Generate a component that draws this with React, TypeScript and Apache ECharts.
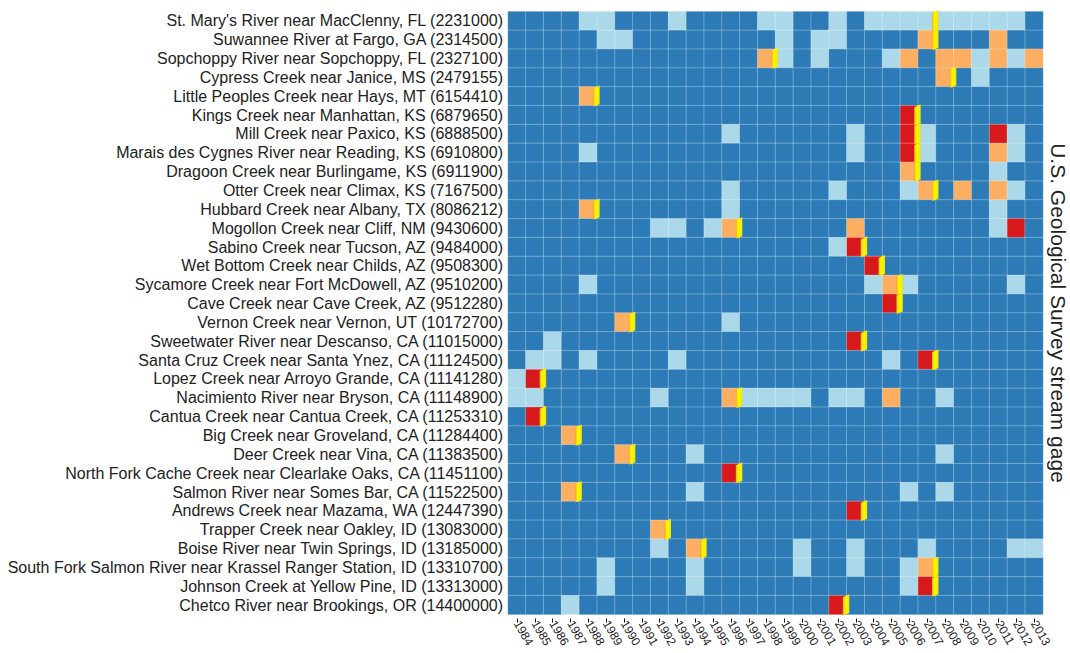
import React, { useEffect, useRef } from 'react';
import * as echarts from 'echarts';

const years: string[] = [
  '1984','1985','1986','1987','1988','1989','1990','1991','1992','1993',
  '1994','1995','1996','1997','1998','1999','2000','2001','2002','2003',
  '2004','2005','2006','2007','2008','2009','2010','2011','2012','2013',
];

const gages: string[] = [
  "St. Mary's River near MacClenny, FL (2231000)",
  'Suwannee River at Fargo, GA (2314500)',
  'Sopchoppy River near Sopchoppy, FL (2327100)',
  'Cypress Creek near Janice, MS (2479155)',
  'Little Peoples Creek near Hays, MT (6154410)',
  'Kings Creek near Manhattan, KS (6879650)',
  'Mill Creek near Paxico, KS (6888500)',
  'Marais des Cygnes River near Reading, KS (6910800)',
  'Dragoon Creek near Burlingame, KS (6911900)',
  'Otter Creek near Climax, KS (7167500)',
  'Hubbard Creek near Albany, TX (8086212)',
  'Mogollon Creek near Cliff, NM (9430600)',
  'Sabino Creek near Tucson, AZ (9484000)',
  'Wet Bottom Creek near Childs, AZ (9508300)',
  'Sycamore Creek near Fort McDowell, AZ (9510200)',
  'Cave Creek near Cave Creek, AZ (9512280)',
  'Vernon Creek near Vernon, UT (10172700)',
  'Sweetwater River near Descanso, CA (11015000)',
  'Santa Cruz Creek near Santa Ynez, CA (11124500)',
  'Lopez Creek near Arroyo Grande, CA (11141280)',
  'Nacimiento River near Bryson, CA (11148900)',
  'Cantua Creek near Cantua Creek, CA (11253310)',
  'Big Creek near Groveland, CA (11284400)',
  'Deer Creek near Vina, CA (11383500)',
  'North Fork Cache Creek near Clearlake Oaks, CA (11451100)',
  'Salmon River near Somes Bar, CA (11522500)',
  'Andrews Creek near Mazama, WA (12447390)',
  'Trapper Creek near Oakley, ID (13083000)',
  'Boise River near Twin Springs, ID (13185000)',
  'South Fork Salmon River near Krassel Ranger Station, ID (13310700)',
  'Johnson Creek at Yellow Pine, ID (13313000)',
  'Chetco River near Brookings, OR (14400000)',
];

// Year of the fire at each gage (marked in yellow)
const fireYears: number[] = [
  2007, 2007, 1998, 2008, 1988, 2006, 2006, 2006, 2006, 2007,
  1988, 1996, 2003, 2004, 2005, 2005, 1990, 2003, 2007, 1985,
  1996, 1985, 1987, 1990, 1996, 1987, 2003, 1992, 1994, 2007,
  2007, 2002,
];

// Level per gage and year: 0 = normal, 1 = elevated, 2 = high, 3 = highest
const levels: number[][] = [
  [0,0,0,0,1,1,0,0,0,1, 0,0,0,0,1,1,0,0,1,0, 1,1,1,1,1,1,1,1,1,0],
  [0,0,0,0,0,1,1,0,0,0, 0,0,0,0,0,1,0,1,1,0, 0,0,0,2,0,0,0,2,0,0],
  [0,0,0,0,0,0,0,0,0,0, 0,0,0,0,2,1,0,1,0,0, 0,1,2,0,2,2,1,2,1,2],
  [0,0,0,0,0,0,0,0,0,0, 0,0,0,0,0,0,0,0,0,0, 0,0,0,0,2,0,1,0,0,0],
  [0,0,0,0,2,0,0,0,0,0, 0,0,0,0,0,0,0,0,0,0, 0,0,0,0,0,0,0,0,0,0],
  [0,0,0,0,0,0,0,0,0,0, 0,0,0,0,0,0,0,0,0,0, 0,0,3,0,0,0,0,0,0,0],
  [0,0,0,0,0,0,0,0,0,0, 0,0,1,0,0,0,0,0,0,1, 0,0,3,1,0,0,0,3,1,0],
  [0,0,0,0,1,0,0,0,0,0, 0,0,0,0,0,0,0,0,0,1, 0,0,3,1,0,0,0,2,1,0],
  [0,0,0,0,0,0,0,0,0,0, 0,0,0,0,0,0,0,0,0,0, 0,0,2,0,0,0,0,1,0,0],
  [0,0,0,0,0,0,0,0,0,0, 0,0,1,0,0,0,0,0,1,0, 0,0,1,2,0,2,0,2,1,0],
  [0,0,0,0,2,0,0,0,0,0, 0,0,1,0,0,0,0,0,0,0, 0,0,0,0,0,0,0,1,0,0],
  [0,0,0,0,0,0,0,0,1,1, 0,1,2,0,0,0,0,0,0,2, 0,0,0,0,0,0,0,1,3,0],
  [0,0,0,0,0,0,0,0,0,0, 0,0,0,0,0,0,0,0,1,3, 0,0,0,0,0,0,0,0,0,0],
  [0,0,0,0,0,0,0,0,0,0, 0,0,0,0,0,0,0,0,0,0, 3,0,0,0,0,0,0,0,0,0],
  [0,0,0,0,1,0,0,0,0,0, 0,0,0,0,0,0,0,0,0,0, 1,2,1,0,0,0,0,0,1,0],
  [0,0,0,0,0,0,0,0,0,0, 0,0,0,0,0,0,0,0,0,0, 0,3,0,0,0,0,0,0,0,0],
  [0,0,0,0,0,0,2,0,0,0, 0,0,1,0,0,0,0,0,0,0, 0,0,0,0,0,0,0,0,0,0],
  [0,0,1,0,0,0,0,0,0,0, 0,0,0,0,0,0,0,0,0,3, 0,0,0,0,0,0,0,0,0,0],
  [0,1,1,0,1,0,0,0,0,1, 0,0,0,0,0,0,0,0,0,0, 0,1,0,3,0,0,0,0,0,0],
  [1,3,0,0,0,0,0,0,0,0, 0,0,0,0,0,0,0,0,0,0, 0,0,0,0,0,0,0,0,0,0],
  [1,1,0,0,0,0,0,0,1,0, 0,0,2,1,1,1,1,0,1,1, 0,2,0,0,1,0,0,0,0,0],
  [0,3,0,0,0,0,0,0,0,0, 0,0,0,0,0,0,0,0,0,0, 0,0,0,0,0,0,0,0,0,0],
  [0,0,0,2,0,0,0,0,0,0, 0,0,0,0,0,0,0,0,0,0, 0,0,0,0,0,0,0,0,0,0],
  [0,0,0,0,0,0,2,0,0,0, 1,0,0,0,0,0,0,0,0,0, 0,0,0,0,1,0,0,0,0,0],
  [0,0,0,0,0,0,0,0,0,0, 0,0,3,0,0,0,0,0,0,0, 0,0,0,0,0,0,0,0,0,0],
  [0,0,0,2,0,0,0,0,0,0, 1,0,0,0,0,0,0,0,0,0, 0,0,1,0,1,0,0,0,0,0],
  [0,0,0,0,0,0,0,0,0,0, 0,0,0,0,0,0,0,0,0,3, 0,0,0,0,0,0,0,0,0,0],
  [0,0,0,0,0,0,0,0,2,0, 0,0,0,0,0,0,0,0,0,0, 0,0,0,0,0,0,0,0,0,0],
  [0,0,0,0,0,0,0,0,1,0, 2,0,0,0,0,0,1,0,0,1, 0,0,0,1,0,0,0,0,1,1],
  [0,0,0,0,0,1,0,0,0,0, 1,0,0,0,0,0,1,0,0,1, 0,0,1,2,0,0,0,0,0,0],
  [0,0,0,0,0,1,0,0,0,0, 1,0,0,0,0,0,0,0,0,0, 0,0,1,3,0,0,0,0,0,0],
  [0,0,0,1,0,0,0,0,0,0, 0,0,0,0,0,0,0,0,3,0, 0,0,0,0,0,0,0,0,0,0],
];

const levelColors: string[] = ['#2c7bb6', '#abd9e9', '#fdae61', '#d7191c'];
const titleText = 'U.S. Geological Survey stream gage';
const FONT = '"Liberation Sans", Arial, Helvetica, sans-serif';

export default function App() {
  const ref = useRef<HTMLDivElement>(null);

  useEffect(() => {
    if (!ref.current) return;
    const chart = echarts.init(ref.current, null, { renderer: 'svg' });

    const cells: number[][] = [];
    levels.forEach((row, r) => {
      row.forEach((v, c) => cells.push([c, r, v]));
    });
    const fires: number[][] = fireYears.map((y, r) => [years.indexOf(String(y)), r]);

    const yellow = {
      type: 'linear', x: 0, y: 0, x2: 1, y2: 0,
      colorStops: [
        { offset: 0, color: '#e9a72a' },
        { offset: 0.3, color: '#fff200' },
        { offset: 0.8, color: '#f6f000' },
        { offset: 1, color: '#e6e21a' },
      ],
    };

    chart.setOption({
      animation: false,
      textStyle: { fontFamily: FONT },
      grid: { left: 508, top: 11.5, width: 535, height: 603, containLabel: false },
      xAxis: {
        type: 'category',
        data: years,
        position: 'bottom',
        offset: 4,
        axisLine: { show: false },
        axisTick: { show: true, alignWithLabel: true, length: 4, lineStyle: { color: '#111', width: 1 } },
        axisLabel: { interval: 0, rotate: -60, fontSize: 12, color: '#222', margin: 3, fontFamily: FONT },
        splitLine: { show: false },
      },
      yAxis: {
        type: 'category',
        data: gages,
        inverse: true,
        axisLine: { show: false },
        axisTick: { show: false },
        axisLabel: { interval: 0, fontSize: 16, color: '#222', margin: 5, fontFamily: FONT },
        splitLine: { show: false },
      },
      visualMap: {
        type: 'piecewise',
        show: false,
        dimension: 2,
        seriesIndex: 0,
        pieces: levelColors.map((color, i) => ({ value: i, color })),
      },
      series: [
        {
          type: 'heatmap',
          data: cells,
          itemStyle: { borderColor: 'rgba(255,255,255,0.28)', borderWidth: 1 },
          emphasis: { disabled: true },
        },
        {
          type: 'custom',
          data: fires,
          z: 5,
          renderItem: (params: any, api: any) => {
            const c = api.coord([api.value(0), api.value(1)]);
            const s = api.size([1, 1]);
            const R = c[0] + s[0] / 2;
            const T = c[1] - s[1] / 2;
            const B = c[1] + s[1] / 2;
            return {
              type: 'polygon',
              shape: {
                points: [
                  [R - 4, T + 1.5],
                  [R + 2.5, T - 1.5],
                  [R + 2.5, B - 1.5],
                  [R - 4, B + 1],
                ],
              },
              style: { fill: yellow },
            };
          },
        },
      ],
      graphic: [
        {
          type: 'text',
          x: 1058,
          y: 313,
          rotation: -Math.PI / 2,
          style: {
            text: titleText,
            fontSize: 21,
            fontFamily: FONT,
            fill: '#222',
            textAlign: 'center',
            textVerticalAlign: 'middle',
          },
        },
      ],
    });

    return () => chart.dispose();
  }, []);

  return (
    <div
      ref={ref}
      style={{ position: 'fixed', left: 0, top: 0, width: 1070, height: 653, background: '#fff' }}
    />
  );
}
